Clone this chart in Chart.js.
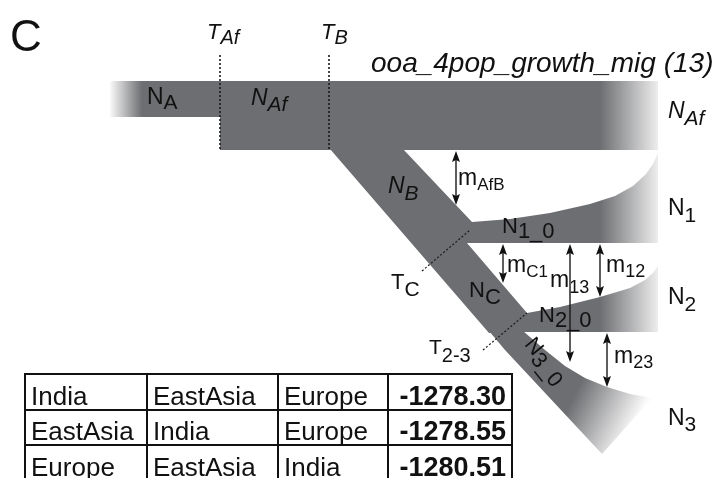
<!DOCTYPE html>
<html>
<head>
<meta charset="utf-8">
<script src="https://cdn.jsdelivr.net/npm/chart.js@4/dist/chart.umd.min.js"></script>
<style>
  html, body { margin: 0; padding: 0; background: #fff; overflow: hidden; }
  canvas { display: block; }
</style>
</head>
<body>
<canvas id="model" width="719" height="478"></canvas>
<script>
// ---- Model and results -------------------------------------------------
const panelLetter = 'C';
const modelName = 'ooa_4pop_growth_mig (13)';

// Population orders (pop 1, pop 2, pop 3), one array per table row
const orderRow1 = ['India', 'EastAsia', 'Europe'];
const orderRow2 = ['EastAsia', 'India', 'Europe'];
const orderRow3 = ['Europe', 'EastAsia', 'India'];
const logLikelihood = [-1278.30, -1278.55, -1280.51];

// ---- Diagram outline (diagram units, y grows downward) -----------------
const ancestralBand = [[110, 81], [222, 81], [222, 117], [110, 117]];
const africanBand   = [[220, 81], [658, 81], [658, 150], [220, 150]];
const stemBand      = [[329, 149], [403, 149], [472, 222], [467, 243], [527, 313],
                       [523, 333], [489, 333], [330, 149]];
const branch1Band   = [[458, 222], [472, 222], [510, 219], [550, 213], [590, 204], [615, 196],
                       [633, 186], [646, 174], [653, 164], [658, 153], [658, 243], [452, 243]];
const branch2Band   = [[515, 313], [527, 313], [560, 307], [600, 297], [630, 288], [645, 280],
                       [653, 273], [658, 266], [658, 332], [512, 332]];
const branch3Band   = [[489, 331], [523, 331], [545, 350], [565, 366], [585, 378], [607, 387],
                       [630, 394], [652, 398], [602, 454], [505, 350]];

// Split-time markers
const splitTAf = [[220, 55], [220, 150]];
const splitTB  = [[329, 55], [329, 150]];
const splitTC  = [[422, 271], [470, 230]];
const splitT23 = [[483, 350], [527, 313]];

// Migration arrows: x, upper end, lower end
const migrationArrows = [
  [456, 151, 205],   // m_AfB
  [503, 244, 283],   // m_C1
  [570, 244, 362],   // m_13
  [600, 244, 297],   // m_12
  [607, 333, 387]    // m_23
];

// Table grid
const tableCols = [25, 147, 278, 388, 512];
const tableRows = [374, 410, 445, 481];

// ---- Colours -----------------------------------------------------------
const GREY = [109, 110, 113];
const grey = (a) => `rgba(${GREY[0]},${GREY[1]},${GREY[2]},${a})`;

function linearFade(p0, p1, a0, a1) {
  return (ctx) => {
    const chart = ctx.chart;
    const sx = chart.scales.x, sy = chart.scales.y;
    if (!sx || !sy || !chart.chartArea) return grey(1);
    const g = chart.ctx.createLinearGradient(
      sx.getPixelForValue(p0[0]), sy.getPixelForValue(p0[1]),
      sx.getPixelForValue(p1[0]), sy.getPixelForValue(p1[1]));
    g.addColorStop(0, grey(a0));
    g.addColorStop(1, grey(a1));
    return g;
  };
}

const toPts = (arr) => arr.map(([x, y]) => ({ x, y }));

function band(points, color) {
  return {
    data: toPts(points), fill: 'shape', backgroundColor: color,
    borderColor: 'rgba(0,0,0,0)', borderWidth: 0, pointRadius: 0, tension: 0, order: 10
  };
}
function rule(points, dash, width) {
  return {
    data: toPts(points), fill: false, borderColor: '#1a1a1a', borderWidth: width,
    borderDash: dash, pointRadius: 0, tension: 0, order: 2
  };
}

const rightFade = linearFade([600, 0], [658, 0], 1, 0.12);

const datasets = [
  band(ancestralBand, linearFade([110, 0], [142, 0], 0.04, 1)),
  band(africanBand, rightFade),
  band(stemBand, grey(1)),
  band(branch1Band, rightFade),
  band(branch2Band, rightFade),
  band(branch3Band, linearFade([581, 382], [641, 412], 1, 0.03)),
  rule(splitTAf, [2, 2], 1.6),
  rule(splitTB, [2, 2], 1.6),
  rule(splitTC, [2, 2], 1.2),
  rule(splitT23, [2, 2], 1.2),
  ...migrationArrows.map(([x, y0, y1]) => rule([[x, y0 + 6], [x, y1 - 6]], [], 1.4))
];

// ---- Labels ------------------------------------------------------------
const FAM = '"Liberation Sans", Arial, Helvetica, sans-serif';
const labelSpecs = [
  { main: panelLetter, x: 10, y: 51, size: 44 },
  { main: 'T', sub: 'Af', x: 207, y: 39, size: 22, subSize: 20, drop: 5, italic: true },
  { main: 'T', sub: 'B', x: 321, y: 39, size: 22, subSize: 20, drop: 5, italic: true },
  { main: modelName, x: 371, y: 72, size: 28, italic: true },
  { main: 'N', sub: 'A', x: 147, y: 104, size: 23, subSize: 21, drop: 5 },
  { main: 'N', sub: 'Af', x: 251, y: 105, size: 23, subSize: 21, drop: 6, italic: true },
  { main: 'N', sub: 'Af', x: 668, y: 118, size: 23, subSize: 21, drop: 7, italic: true },
  { main: 'N', sub: '1', x: 668, y: 215, size: 23, subSize: 21, drop: 7 },
  { main: 'N', sub: '2', x: 668, y: 304, size: 23, subSize: 21, drop: 7 },
  { main: 'N', sub: '3', x: 668, y: 425, size: 23, subSize: 21, drop: 6 },
  { main: 'N', sub: 'B', x: 388, y: 193, size: 23, subSize: 21, drop: 7, italic: true },
  { main: 'N', sub: '1_0', x: 502, y: 233, size: 22, subSize: 22, drop: 5 },
  { main: 'N', sub: 'C', x: 469, y: 297, size: 22, subSize: 22, drop: 7 },
  { main: 'N', sub: '2_0', x: 539, y: 322, size: 22, subSize: 22, drop: 5 },
  { main: 'N', sub: '3_0', x: 545, y: 361, size: 22, subSize: 22, drop: 5, rot: 51, align: 'center' },
  { main: 'm', sub: 'AfB', x: 458, y: 185, size: 23, subSize: 17, drop: 5 },
  { main: 'm', sub: 'C1', x: 507, y: 272, size: 23, subSize: 17, drop: 5 },
  { main: 'm', sub: '13', x: 550, y: 287, size: 23, subSize: 18, drop: 6 },
  { main: 'm', sub: '12', x: 606, y: 272, size: 23, subSize: 18, drop: 5 },
  { main: 'm', sub: '23', x: 614, y: 363, size: 23, subSize: 18, drop: 5 },
  { main: 'T', sub: 'C', x: 391, y: 289, size: 22, subSize: 21, drop: 7 },
  { main: 'T', sub: '2-3', x: 429, y: 354, size: 21, subSize: 20, drop: 8 }
];

function drawLabel(c, L, px, py) {
  const style = L.italic ? 'italic ' : '';
  c.save();
  c.translate(px(L.x), py(L.y));
  if (L.rot) c.rotate(L.rot * Math.PI / 180);
  c.fillStyle = '#111';
  c.textAlign = 'left';
  c.textBaseline = L.align === 'center' ? 'middle' : 'alphabetic';
  c.font = `${style}${L.size}px ${FAM}`;
  const w1 = c.measureText(L.main).width;
  let w2 = 0;
  if (L.sub) {
    c.font = `${style}${L.subSize}px ${FAM}`;
    w2 = c.measureText(L.sub).width;
  }
  const x0 = L.align === 'center' ? -(w1 + w2) / 2 : 0;
  c.font = `${style}${L.size}px ${FAM}`;
  c.fillText(L.main, x0, 0);
  if (L.sub) {
    c.font = `${style}${L.subSize}px ${FAM}`;
    c.fillText(L.sub, x0 + w1, L.drop || 0);
  }
  c.restore();
}

const overlay = {
  id: 'overlay',
  afterDatasetsDraw(chart) {
    const c = chart.ctx;
    const px = (v) => chart.scales.x.getPixelForValue(v);
    const py = (v) => chart.scales.y.getPixelForValue(v);

    // arrow heads on both ends of each migration arrow
    c.save();
    c.fillStyle = '#111';
    const head = (x, y, dir) => {
      c.beginPath();
      c.moveTo(px(x), py(y));
      c.lineTo(px(x) - 4, py(y) + dir * 11);
      c.lineTo(px(x), py(y) + dir * 9);
      c.lineTo(px(x) + 4, py(y) + dir * 11);
      c.closePath();
      c.fill();
    };
    migrationArrows.forEach(([x, y0, y1]) => { head(x, y0, 1); head(x, y1, -1); });
    c.restore();

    labelSpecs.forEach((L) => drawLabel(c, L, px, py));

    // results table
    c.save();
    c.strokeStyle = '#111';
    c.lineWidth = 2;
    const top = tableRows[0], bottom = tableRows[tableRows.length - 1];
    tableCols.forEach((x) => {
      c.beginPath(); c.moveTo(px(x), py(top) - 1); c.lineTo(px(x), py(bottom)); c.stroke();
    });
    tableRows.forEach((y) => {
      c.beginPath(); c.moveTo(px(tableCols[0]), py(y)); c.lineTo(px(tableCols[4]), py(y)); c.stroke();
    });
    c.fillStyle = '#111';
    c.textBaseline = 'alphabetic';
    const rowsText = [orderRow1, orderRow2, orderRow3];
    for (let r = 0; r < rowsText.length; r++) {
      const base = tableRows[r + 1] - 5;
      c.font = `26px ${FAM}`;
      c.textAlign = 'left';
      for (let k = 0; k < 3; k++) {
        c.fillText(rowsText[r][k], px(tableCols[k] + 6), py(base));
      }
      c.font = `bold 27px ${FAM}`;
      c.textAlign = 'right';
      c.fillText(logLikelihood[r].toFixed(2), px(tableCols[4] - 6), py(base));
    }
    c.restore();
  }
};

new Chart(document.getElementById('model'), {
  type: 'line',
  data: { datasets },
  options: {
    responsive: false,
    animation: false,
    devicePixelRatio: 1,
    events: [],
    layout: { padding: 0 },
    plugins: { legend: { display: false }, tooltip: { enabled: false } },
    scales: {
      x: { type: 'linear', min: 0, max: 719, display: false, bounds: 'data' },
      y: { type: 'linear', min: 0, max: 478, reverse: true, display: false, bounds: 'data' }
    }
  },
  plugins: [overlay]
});
</script>
</body>
</html>
